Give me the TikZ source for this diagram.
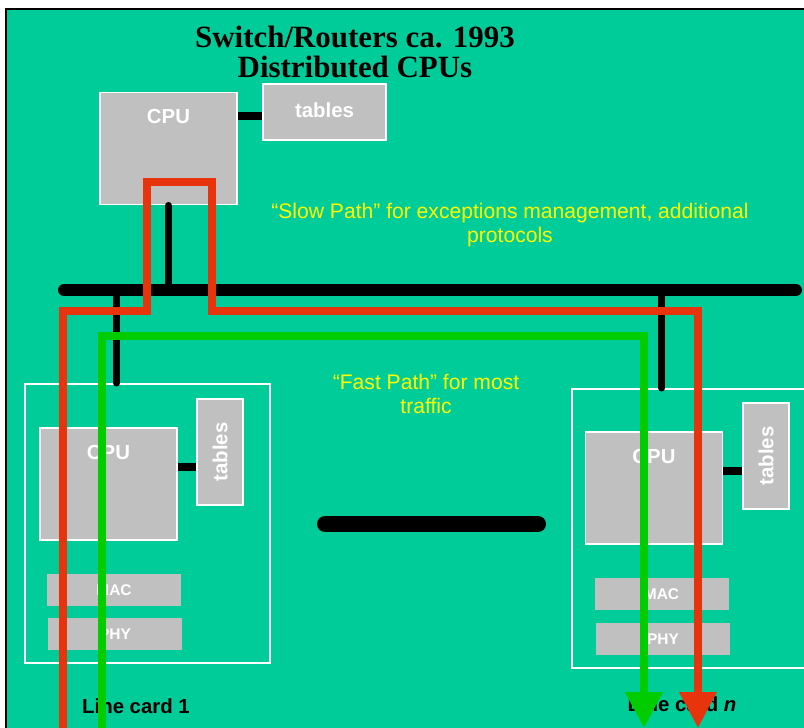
\documentclass[tikz,border=0pt]{standalone}
\usepackage{graphicx}
\usepackage{fontspec}
\setmainfont{Liberation Sans}
\newfontfamily\titlefont{Liberation Serif}
\usetikzlibrary{arrows.meta, calc}
\definecolor{panelgreen}{HTML}{00CC99}
\definecolor{boxgray}{HTML}{C0C0C0}
\definecolor{slowred}{HTML}{E8340C}
\definecolor{fastgreen}{HTML}{00CC00}
\definecolor{notetext}{HTML}{FFFF00}
\def\px{0.025cm}

\begin{document}
\begin{tikzpicture}[x=0.025cm, y=-0.025cm,
	box/.style={fill=boxgray, draw=white, line width=1.4pt, inner sep=0pt},
	boxtext/.style={text=white, font=\bfseries\fontsize{14.5}{17}\selectfont},
	cpubox/.style={box, minimum width=137*\px, minimum height=112*\px,
		label={[boxtext, anchor=north, inner sep=0pt, yshift=-12.5pt]north:CPU}},
	vtables/.style={box, boxtext, minimum width=46*\px, minimum height=106*\px},
	layerbox/.style={fill=boxgray, inner sep=0pt, minimum width=134*\px, minimum height=32*\px,
		text=white, font=\bfseries\fontsize{11}{13}\selectfont},
	card/.style={draw=white, line width=1.4pt, minimum width=245*\px, minimum height=279*\px},
	cardlabel/.style={font=\bfseries\fontsize{14.5}{17}\selectfont},
	note/.style={text=notetext, align=center, font=\fontsize{15}{17}\selectfont},
	link/.style={draw=black, line width=5.7pt},
	drop/.style={draw=black, line width=5pt, line cap=round},
	bus/.style={draw=black, line width=8.5pt, line cap=round},
	slowpath/.style={draw=slowred, line width=5pt, -{Triangle[length=25.6pt, width=25.6pt]}},
	fastpath/.style={draw=fastgreen, line width=5.5pt, -{Triangle[length=25.6pt, width=25.6pt]}}]
	\useasboundingbox (0,0) rectangle (804,728);
	\clip (0,0) rectangle (804,728);
	\fill[white] (0,0) rectangle (804,728);
	\fill[panelgreen] (6,9) rectangle (820,740);
	\draw[black, line width=1.2pt] (6,740) -- (6,9) -- (820,9);

	% title
	\node[align=center, font=\titlefont\bfseries\fontsize{22}{21.5}\selectfont] (title) at (355,52)
		{Switch/Routers ca. 1993\\Distributed CPUs};

	% central CPU
	\node[cpubox] (topcpu) at (168.5,148.5) {};
	\node[box, boxtext, minimum width=123*\px, minimum height=56*\px] (toptables) at (324.5,112)
		{\raisebox{3pt}{tables}};
	\draw[link] ([yshift=-3pt]toptables.west) -- ([yshift=-3pt]toptables.west -| topcpu.east);

	% line cards
	\node[card] (lc1) at (147.5,523.5) {};
	\node[card, minimum width=250*\px] (lcn) at (697,528.5) {};
	\node[cpubox] (lc1cpu) at (108.5,484) {};
	\node[cpubox] (lcncpu) at (654,488) {};
	\node[vtables] (lc1tables) at (220,452) {\rotatebox{90}{tables}};
	\node[vtables] (lcntables) at (766,456) {\rotatebox{90}{tables}};
	\draw[link] ([yshift=-10.5pt]lc1tables.west) -- ([yshift=-10.5pt]lc1tables.west -| lc1cpu.east);
	\draw[link] ([yshift=-11pt]lcntables.west) -- ([yshift=-11pt]lcntables.west -| lcncpu.east);
	\foreach \nm/\x/\y/\lbl in {lc1mac/114/590/MAC, lc1phy/115/634/PHY, lcnmac/661.5/594/MAC, lcnphy/663/639/PHY}
		\node[layerbox] (\nm) at (\x,\y) {\lbl};
	\node[cardlabel] (lc1name) at (136,706) {Line card 1};
	\node[cardlabel] (lcnname) at (682,704) {Line card \textit{n}};

	% bus
	\coordinate (busl) at (64,290);
	\coordinate (busr) at (796,290);
	\coordinate (lc1port) at ($(lc1.north west)!0.375!(lc1.north east)$);
	\coordinate (lcnport) at ($(lcn.north west)!0.36!(lcn.north east)$);
	\draw[bus] (busl) -- (busr);
	\draw[drop] (topcpu.south) -- (topcpu.south |- busl);
	\draw[drop] (lc1port |- busl) -- (lc1port);
	\draw[drop] (lcnport |- busl) -- (lcnport);
	\coordinate (barl) at (325,524);
	\coordinate (barr) at (538,524);
	\draw[bus, line width=11.4pt] (barl) -- (barr);

	% notes
	\node[note] (slownote) at (510,225) {“Slow Path” for exceptions management, additional\\protocols};
	\node[note] (fastnote) at (426,394) {“Fast Path” for most\\traffic};

	% paths
	\coordinate (redin) at (63,740);
	\coordinate (redout) at (698,728);
	\coordinate (greenin) at (102,740);
	\coordinate (greenout) at (644,728);
	\draw[slowpath] (redin) |- (147,311) |- (212,182) |- (redout |- 0,311) -- (redout);
	\draw[fastpath] (greenin) |- (greenout |- 0,336) -- (greenout);
\end{tikzpicture}
\end{document}
